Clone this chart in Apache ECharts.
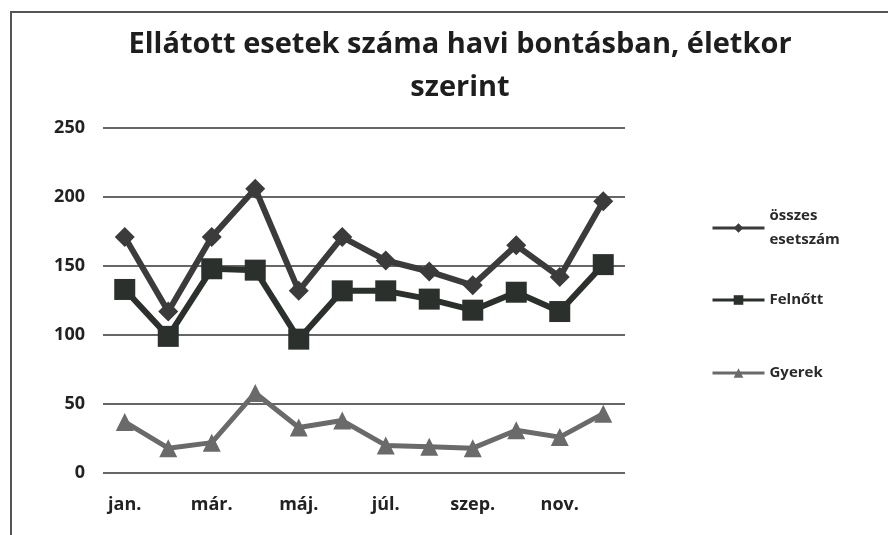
<!DOCTYPE html>
<html>
<head>
<meta charset="utf-8">
<script src="https://cdn.jsdelivr.net/npm/echarts@6/dist/echarts.min.js"></script>
<style>
html, body { margin: 0; padding: 0; background: #fff; }
#chart { width: 888px; height: 535px; }
</style>
</head>
<body>
<div id="chart"></div>
<script>
const months = ['jan.', 'febr.', 'már.', 'ápr.', 'máj.', 'jún.', 'júl.', 'aug.', 'szep.', 'okt.', 'nov.', 'dec.']
const osszes = [171, 117, 171, 206, 132, 171, 154, 146, 136, 165, 142, 197]
const felnott = [133, 99, 148, 147, 97, 132, 132, 126, 118, 131, 117, 151]
const gyerek = [37, 18, 22, 58, 33, 38, 20, 19, 18, 31, 26, 43]
const yTicks = [0, 50, 100, 150, 200, 250]

const font = 'Open Sans'
const chart = echarts.init(document.getElementById('chart'))

const legendBase = {
    orient: 'vertical',
    left: 706,
    itemWidth: 52,
    itemHeight: 12,
    itemGap: 0,
    textStyle: { fontFamily: font, fontSize: 15, fontWeight: 'bold', color: '#2a2a2a', lineHeight: 24 },
    lineStyle: { width: 3 }
}

const option = {
    backgroundColor: '#fff',
    title: {
        text: 'Ellátott esetek száma havi bontásban, életkor\nszerint',
        left: 455,
        top: 18,
        textAlign: 'center',
        textStyle: { fontFamily: font, fontSize: 29, fontWeight: 'bold', color: '#1e1e1e', lineHeight: 43 }
    },
    graphic: [{
        type: 'polyline',
        shape: { points: [[11, 600], [11, 12], [900, 12]] },
        style: { stroke: '#555', lineWidth: 2, fill: null }
    }],
    legend: [
        Object.assign({}, legendBase, {
            top: 187,
            data: [{ name: 'összes esetszám', textStyle: { padding: [24, 0, 0, 0] } }],
            formatter: () => 'összes\nesetszám'
        }),
        Object.assign({}, legendBase, { top: 283, data: ['Felnőtt'] }),
        Object.assign({}, legendBase, { top: 356, data: ['Gyerek'] })
    ],
    grid: { left: 103, right: 263, top: 128, bottom: 62 },
    xAxis: {
        type: 'category',
        data: months,
        boundaryGap: true,
        axisLine: { show: false },
        axisTick: { show: false },
        axisLabel: {
            interval: 1,
            margin: 23,
            fontFamily: font, fontSize: 18, fontWeight: 'bold', color: '#222'
        }
    },
    yAxis: {
        type: 'value',
        min: yTicks[0],
        max: yTicks[yTicks.length - 1],
        interval: 50,
        axisLine: { show: false },
        axisTick: { show: false },
        axisLabel: { margin: 18, fontFamily: font, fontSize: 18, fontWeight: 'bold', color: '#222' },
        splitLine: { lineStyle: { color: '#333', width: 1.5 } }
    },
    series: [{
        name: 'összes esetszám',
        type: 'line',
        data: osszes,
        symbol: 'diamond',
        symbolSize: 20,
        lineStyle: { width: 6, color: '#3b3b3b' },
        itemStyle: { color: '#3b3b3b' }
    }, {
        name: 'Felnőtt',
        type: 'line',
        data: felnott,
        symbol: 'rect',
        symbolSize: 21,
        lineStyle: { width: 6, color: '#2b302c' },
        itemStyle: { color: '#2b302c' }
    }, {
        name: 'Gyerek',
        type: 'line',
        data: gyerek,
        symbol: 'triangle',
        symbolSize: 18,
        lineStyle: { width: 5, color: '#6a6a6a' },
        itemStyle: { color: '#6a6a6a' }
    }]
}

chart.setOption(option)
</script>
</body>
</html>
